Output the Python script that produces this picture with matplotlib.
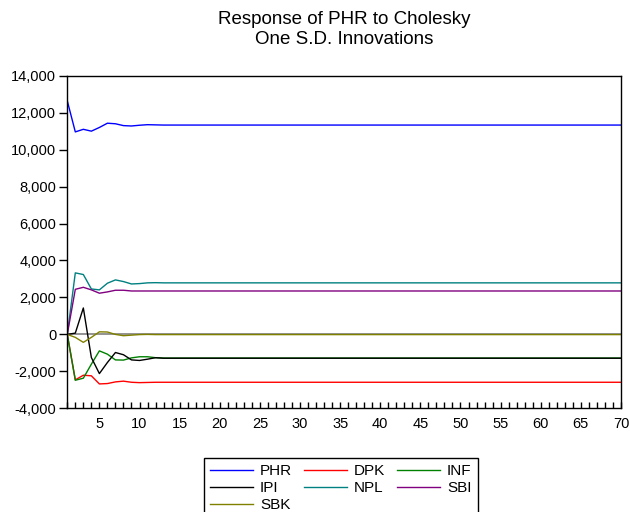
import matplotlib
matplotlib.use("Agg")
import matplotlib.pyplot as plt
from matplotlib.ticker import FuncFormatter, MultipleLocator

plt.rcParams["font.family"] = ["Liberation Sans", "DejaVu Sans"]

periods = list(range(1, 71))

# responses, first 12 periods, then the flat tail
phr_head = [12640, 10960, 11100, 11000, 11200, 11430, 11400, 11300, 11280, 11320, 11350, 11340]
dpk_head = [0, -2460, -2210, -2240, -2680, -2660, -2570, -2530, -2590, -2610, -2600, -2590]
inf_head = [0, -2480, -2370, -1610, -890, -1070, -1380, -1390, -1270, -1210, -1210, -1260]
ipi_head = [0, 70, 1430, -1250, -2120, -1520, -980, -1100, -1380, -1410, -1340, -1260]
npl_head = [0, 3330, 3240, 2460, 2410, 2770, 2950, 2860, 2730, 2750, 2790, 2800]
sbi_head = [0, 2440, 2550, 2410, 2230, 2300, 2390, 2390, 2350, 2350, 2350, 2350]
sbk_head = [0, -160, -430, -160, 140, 130, 0, -70, -40, -10, 0, -10]

phr_tail = 11330
dpk_tail = -2590
inf_tail = -1280
ipi_tail = -1290
npl_tail = 2790
sbi_tail = 2350
sbk_tail = -10

series = {
    "PHR": (phr_head, phr_tail, "#0000ff"),
    "DPK": (dpk_head, dpk_tail, "#ff0000"),
    "INF": (inf_head, inf_tail, "#008000"),
    "IPI": (ipi_head, ipi_tail, "#000000"),
    "NPL": (npl_head, npl_tail, "#008080"),
    "SBI": (sbi_head, sbi_tail, "#800080"),
    "SBK": (sbk_head, sbk_tail, "#808000"),
}

fig = plt.figure(figsize=(6.3, 5.12), dpi=100)
ax = fig.add_axes([0.1068, 0.2025, 0.8789, 0.6496])

ax.axhline(0, color="#808080", lw=1.2, zorder=1)

lines = {}
for name, (head, tail, col) in series.items():
    vals = head + [tail] * (len(periods) - len(head))
    (ln,) = ax.plot(periods, vals, color=col, lw=1.0, label=name, zorder=2)
    lines[name] = ln

ax.set_xlim(1, 70)
ax.set_ylim(-4000, 14000)
ax.xaxis.set_major_locator(MultipleLocator(5))
ax.xaxis.set_minor_locator(MultipleLocator(1))
ax.yaxis.set_major_locator(MultipleLocator(2000))
ax.yaxis.set_major_formatter(FuncFormatter(lambda v, p: f"{int(v):,}"))
ax.tick_params(axis="x", which="both", direction="in", length=4, width=1, labelsize=10.5, pad=6)
ax.tick_params(axis="y", direction="out", length=6, width=1, labelsize=10.5, pad=2)
for s in ax.spines.values():
    s.set_linewidth(1.0)

ax.set_title("Response of PHR to Cholesky\nOne S.D. Innovations", fontsize=13.5, pad=23, linespacing=1.22)

order = ["PHR", "IPI", "SBK", "DPK", "NPL", "INF", "SBI"]
leg = fig.legend([lines[n] for n in order], order, ncol=3, loc="upper left",
                 bbox_to_anchor=(0.324, 0.1055), borderaxespad=0, fontsize=11,
                 frameon=True, fancybox=False, edgecolor="black", framealpha=1,
                 handlelength=2.8, handletextpad=0.45, columnspacing=0.8,
                 labelspacing=0.2, borderpad=0.4)
leg.get_frame().set_linewidth(1.0)

fig.savefig("out.png", dpi=100)
